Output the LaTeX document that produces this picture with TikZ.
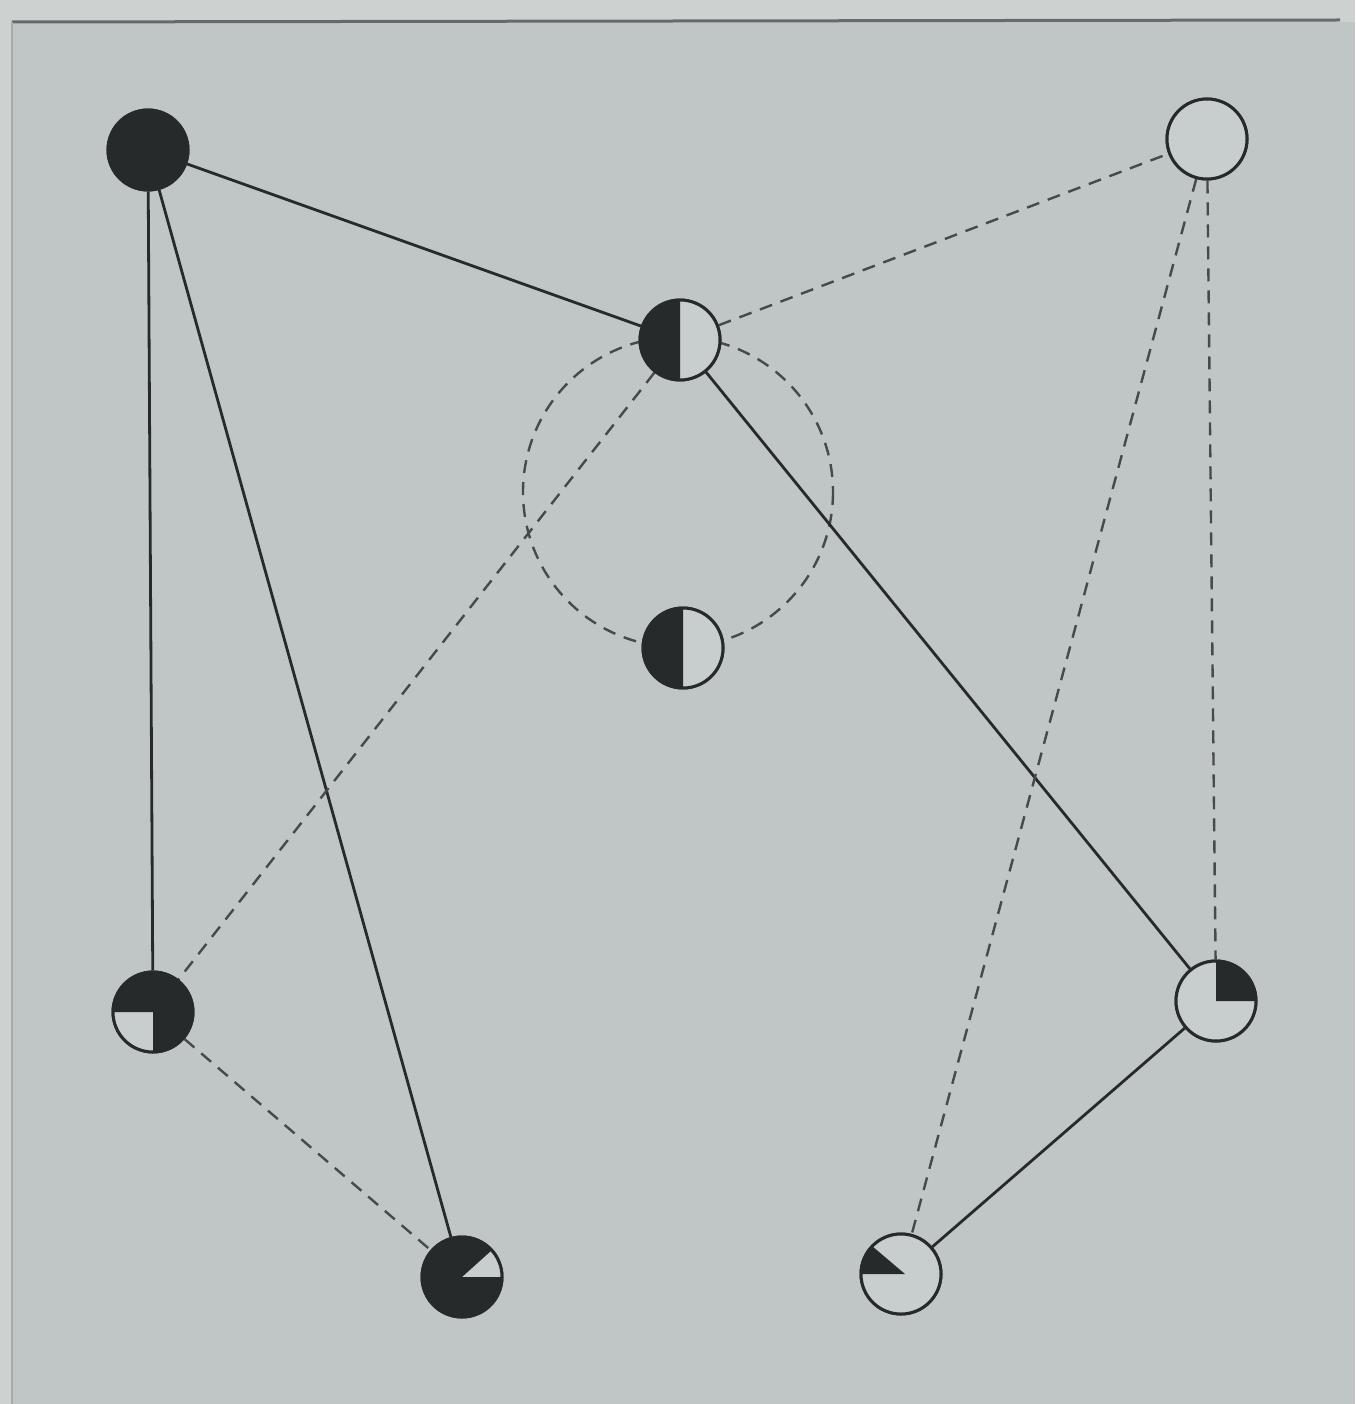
\documentclass[tikz,border=0pt]{standalone}
\begin{document}
\begin{tikzpicture}[x=1pt,y=-1pt,
  pt/.style={circle,draw=inkc,line width=3pt,fill=paperlight,minimum size=80pt,inner sep=0pt},
  solidedge/.style={draw=inkc,line width=2.8pt},
  dashededge/.style={draw=inkc!85,line width=2.4pt,dash pattern=on 13pt off 9pt},
]
\definecolor{inkc}{RGB}{38,42,42}
\definecolor{paper}{RGB}{192,198,198}
\definecolor{paperlight}{RGB}{200,206,205}
\definecolor{margin}{RGB}{205,210,208}
\useasboundingbox (0,0) rectangle (1355,1404);
\fill[margin] (0,0) rectangle (1355,1404);
\fill[paper] (12,22) rectangle (1355,1404);
\draw[inkc!70,line width=3pt] (12,22) -- (1340,20);
\draw[inkc!40,line width=2pt] (12,22) -- (12,1404);

% node positions
\coordinate (c1) at (148,150);
\coordinate (c2) at (1207,139);
\coordinate (c3) at (680,340);
\coordinate (c4) at (683,648);
\coordinate (c5) at (153,1012);
\coordinate (c6) at (462,1277);
\coordinate (c7) at (901,1274);
\coordinate (c8) at (1216,1001);

\node[pt] (n1) at (c1) {};
\node[pt] (n2) at (c2) {};
\node[pt] (n3) at (c3) {};
\node[pt] (n4) at (c4) {};
\node[pt] (n5) at (c5) {};
\node[pt] (n6) at (c6) {};
\node[pt] (n7) at (c7) {};
\node[pt] (n8) at (c8) {};

% dashed circle through the two middle points
\coordinate (cc) at (678,492);
\draw[dashededge] (cc) circle[radius=155];

% connectors
\draw[solidedge] (n1) -- (n3);
\draw[solidedge] (n1) -- (n5);
\draw[solidedge] (n1) -- (n6);
\draw[solidedge] (n3) -- (n8);
\draw[solidedge] (n8) -- (n7);
\draw[dashededge] (n3) -- (n2);
\draw[dashededge] (n2) -- (n8);
\draw[dashededge] (n2) -- (n7);
\draw[dashededge] (n3) -- (n5);
\draw[dashededge] (n5) -- (n6);

% redraw nodes on top
\foreach \n in {n1,n2,n3,n4,n5,n6,n7,n8}{
  \fill[paperlight] (\n.center) circle[radius=40];
}
% filled sectors (y axis points down: tikz angle = minus screen angle)
\fill[inkc] (n1.center) circle[radius=40];
\fill[inkc] (n3.center) -- ++(90:40) arc[start angle=90,end angle=270,radius=40] -- cycle;
\fill[inkc] (n4.center) -- ++(90:40) arc[start angle=90,end angle=270,radius=40] -- cycle;
\fill[inkc] (n5.center) -- ++(90:40) arc[start angle=90,end angle=-180,radius=40] -- cycle;
\fill[inkc] (n6.center) -- ++(-42:40) arc[start angle=-42,end angle=-360,radius=40] -- cycle;
\fill[inkc] ([xshift=4pt]n7.center) -- ++(-180:44) arc[start angle=-180,end angle=-136,radius=40] -- cycle;
\fill[inkc] (n8.center) -- ++(0:40) arc[start angle=0,end angle=-90,radius=40] -- cycle;
\foreach \n in {n1,n2,n3,n4,n5,n6,n7,n8}{
  \draw[inkc,line width=3pt] (\n.center) circle[radius=40];
}
\end{tikzpicture}
\end{document}
